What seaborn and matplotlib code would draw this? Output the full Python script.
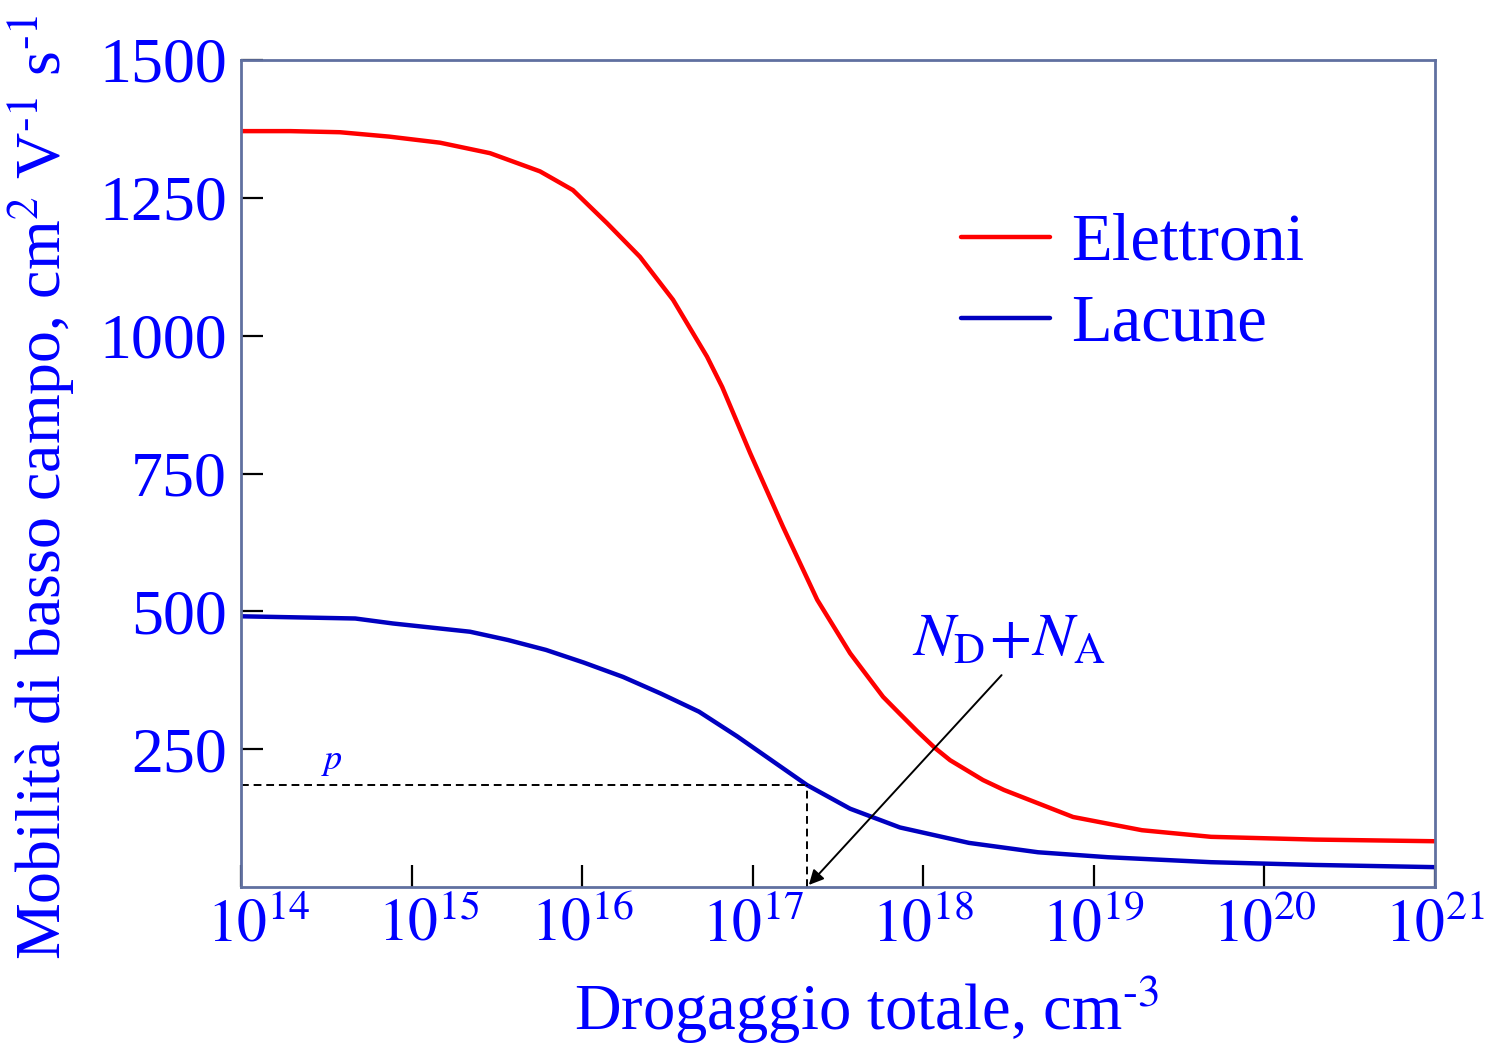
import numpy as np
import pandas as pd
import matplotlib
matplotlib.use("Agg")
import matplotlib.pyplot as plt
import matplotlib.transforms as mtransforms
import seaborn as sns

# Values: log10 of total doping -> low-field mobility (cm^2/Vs)
log_doping_e = [14.0, 14.29, 14.58, 14.87, 15.167, 15.46, 15.753, 15.946, 16.146, 16.339, 16.533, 16.732,
                16.821, 16.985, 17.178, 17.378, 17.571, 17.764, 17.863, 17.963, 18.069, 18.157,
                18.35, 18.473, 18.878, 19.282, 19.687, 20.297, 21.0]
mu_electrons = [1371, 1371, 1369, 1361, 1350, 1331, 1298, 1264, 1204, 1143, 1065, 962,
                907, 787, 653, 521, 424, 345, 314, 283, 252, 230,
                194, 176, 127, 103, 91, 86, 83]
log_doping_h = [14.0, 14.67, 14.89, 15.343, 15.565, 15.788, 16.01, 16.24, 16.46, 16.685,
                16.91, 17.137, 17.318, 17.571, 17.863, 18.268, 18.673, 19.083, 19.687, 20.297, 21.0]
mu_holes = [491, 487, 478, 463, 448, 430, 407, 381, 351, 318,
            273, 224, 185, 142, 108, 80, 63, 54, 45, 40, 36]
series_names = ["Elettroni", "Lacune"]
x_ticks_exp = [14, 15, 16, 17, 18, 19, 20, 21]
y_ticks = [250, 500, 750, 1000, 1250, 1500]
marker_doping = 2.08e17
marker_mu = 185

df = pd.DataFrame({
    "N": [10 ** v for v in log_doping_e] + [10 ** v for v in log_doping_h],
    "mu": mu_electrons + mu_holes,
    "tipo": [series_names[0]] * len(log_doping_e) + [series_names[1]] * len(log_doping_h),
})

sns.set_theme(style="white")
plt.rcParams["font.family"] = ["Liberation Serif", "DejaVu Serif"]
plt.rcParams["mathtext.fontset"] = "stix"

fig = plt.figure(figsize=(14.89, 10.45), dpi=100)
ax = fig.add_axes([241 / 1489, 1 - 887 / 1045, (1435 - 241) / 1489, (887 - 60) / 1045])

palette = {"Elettroni": "#FF0000", "Lacune": "#0000C0"}
sns.lineplot(data=df, x="N", y="mu", hue="tipo", palette=palette, ax=ax,
             linewidth=3.2, legend=False, estimator=None, sort=True,
             solid_joinstyle="round", solid_capstyle="butt")
ax.set_xscale("log")
ax.set_xlim(1e14, 1e21)
ax.set_ylim(0, 1500)

blue = "#0000FF"
ax.set_xticks([10.0 ** e for e in x_ticks_exp])
ax.set_xticklabels([rf"$\mathrm{{10}}^{{{e}}}$" for e in x_ticks_exp])
ax.xaxis.set_minor_locator(matplotlib.ticker.NullLocator())
ax.set_yticks(y_ticks)
ax.set_yticklabels([str(v) for v in y_ticks])
ax.tick_params(axis="both", which="major", direction="in", length=16, width=1.6,
               color="black", labelcolor=blue, pad=10,
               bottom=True, left=True, top=False, right=False)
ax.tick_params(axis="y", labelsize=46)
ax.tick_params(axis="x", labelsize=43, pad=8)

# first two x labels are nudged right, clear of the y axis
shifts_px = [18, 17, 0, 0, 0, 0, 0, 0]
for lab, dx in zip(ax.get_xticklabels(), shifts_px):
    if dx:
        lab.set_transform(lab.get_transform() + mtransforms.ScaledTranslation(dx / 100, 0, fig.dpi_scale_trans))

for s in ax.spines.values():
    s.set_color("#6070A0")
    s.set_linewidth(2.0)

ax.set_xlabel(r"Drogaggio totale, cm$^{\text{-3}}$", color=blue, fontsize=46.5, labelpad=14)
ax.xaxis.label.set_x((866 - 241) / 1194)
ax.set_ylabel(r"Mobilità di basso campo, cm$^{\text{2}}$ V$^{\text{-1}}$ s$^{\text{-1}}$",
              color=blue, fontsize=46, labelpad=16)
ax.yaxis.label.set_y((887 - 487) / 827)

# dashed guide lines
ax.plot([1e14, marker_doping], [marker_mu, marker_mu], ls=(0, (4, 2.5)), color="black", lw=1.4)
ax.plot([marker_doping, marker_doping], [0, marker_mu], ls=(0, (4, 2.5)), color="black", lw=1.4)
ax.text(10 ** 14.53, marker_mu + 12, r"$p$", color=blue, fontsize=26, ha="center", va="bottom")

# arrow
ax.annotate("", xy=(marker_doping, 0), xytext=(10 ** 18.47, 388),
            arrowprops=dict(arrowstyle="-|>", color="black", lw=1.4, mutation_scale=22))
ax.text(10 ** 18.5, 395, r"$N_{\mathrm{D}}\!+\!N_{\mathrm{A}}$", color=blue, fontsize=44,
        ha="center", va="bottom")

# legend
handles = [matplotlib.lines.Line2D([], [], color=palette[n], lw=3.2) for n in series_names]
leg = ax.legend(handles, series_names, loc="upper left", bbox_to_anchor=(0.603, 0.815),
                frameon=False, fontsize=48, handlelength=1.33, handletextpad=0.32,
                labelspacing=0.3, borderpad=0, borderaxespad=0)
for t in leg.get_texts():
    t.set_color(blue)

fig.savefig("out.png", dpi=100)
